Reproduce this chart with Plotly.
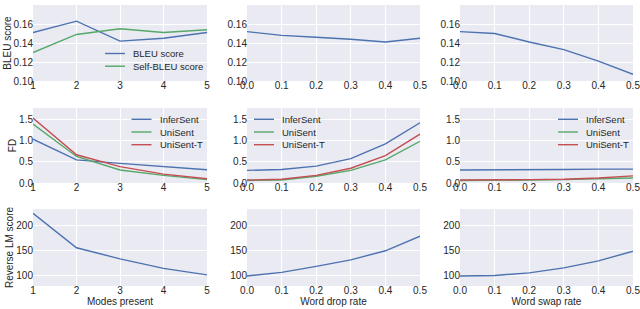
import plotly.graph_objs as go
from plotly.subplots import make_subplots

modes = [1, 2, 3, 4, 5]
rates = [0.0, 0.1, 0.2, 0.3, 0.4, 0.5]

# row 1: BLEU
bleu_modes = [0.151, 0.163, 0.142, 0.145, 0.151]
selfbleu_modes = [0.130, 0.149, 0.155, 0.151, 0.154]
bleu_drop = [0.152, 0.148, 0.146, 0.144, 0.141, 0.145]
bleu_swap = [0.152, 0.150, 0.141, 0.133, 0.121, 0.107]

# row 2: FD
fd_modes = {
    'InferSent': [1.04, 0.55, 0.465, 0.395, 0.316],
    'UniSent': [1.40, 0.63, 0.31, 0.18, 0.08],
    'UniSent-T': [1.54, 0.67, 0.39, 0.21, 0.10],
}
fd_drop = {
    'InferSent': [0.30, 0.32, 0.40, 0.58, 0.93, 1.43],
    'UniSent': [0.06, 0.07, 0.16, 0.30, 0.55, 0.99],
    'UniSent-T': [0.07, 0.09, 0.18, 0.35, 0.65, 1.16],
}
fd_swap = {
    'InferSent': [0.31, 0.31, 0.32, 0.32, 0.33, 0.33],
    'UniSent': [0.06, 0.06, 0.07, 0.08, 0.10, 0.12],
    'UniSent-T': [0.07, 0.07, 0.08, 0.09, 0.12, 0.17],
}

# row 3: reverse LM
rlm_modes = [224.5, 156, 134, 115, 102]
rlm_drop = [100, 107, 119, 132, 150, 179]
rlm_swap = [100, 101, 106, 116, 130, 149]

blue, green, red = '#4C72B0', '#55A868', '#C44E52'
colors = {'InferSent': blue, 'UniSent': green, 'UniSent-T': red}
txt = '#262626'
W, H = 640, 309

fig = make_subplots(rows=3, cols=3)

def line(x, y, name, color, row, col):
    fig.add_trace(go.Scatter(x=x, y=y, name=name, mode='lines',
                             line=dict(color=color, width=1.4),
                             showlegend=False),
                  row=row, col=col)

line(modes, bleu_modes, 'BLEU score', blue, 1, 1)
line(modes, selfbleu_modes, 'Self-BLEU score', green, 1, 1)
line(rates, bleu_drop, 'BLEU score', blue, 1, 2)
line(rates, bleu_swap, 'BLEU score', blue, 1, 3)

for col, (xs, d) in enumerate([(modes, fd_modes), (rates, fd_drop),
                               (rates, fd_swap)], start=1):
    for k, v in d.items():
        line(xs, v, k, colors[k], 2, col)

line(modes, rlm_modes, 'Reverse LM', blue, 3, 1)
line(rates, rlm_drop, 'Reverse LM', blue, 3, 2)
line(rates, rlm_swap, 'Reverse LM', blue, 3, 3)

xdom = [(33, 207), (247, 420), (460, 633)]
ydom = [(5, 81), (108, 183), (209, 286)]
yranges = [[0.10, 0.18], [0, 1.78], [80, 233]]
ytick = [dict(tickvals=[0.10, 0.12, 0.14, 0.16, 0.18], tickformat='.2f'),
         dict(tickvals=[0, 0.5, 1.0, 1.5], tickformat='.1f'),
         dict(tickvals=[100, 150, 200])]
ytitles = ['BLEU score', 'FD', 'Reverse LM score']
xtitles = ['Modes present', 'Word drop rate', 'Word swap rate']

for r in range(3):
    for c in range(3):
        x0, x1 = xdom[c]
        y0, y1 = ydom[r]
        if c == 0:
            xt = dict(range=[1, 5], tickvals=modes)
        else:
            xt = dict(range=[0, 0.5], tickvals=rates, tickformat='.1f')
        fig.update_xaxes(domain=[x0 / W, x1 / W], showgrid=True, gridcolor='white',
                         gridwidth=1, zeroline=False, showline=False, ticks='',
                         automargin=False, ticklabeloverflow='allow',
                         ticklabelstandoff=-3,
                         tickfont=dict(size=10, color=txt),
                         title=dict(text=xtitles[c] if r == 2 else None,
                                    font=dict(size=10, color=txt), standoff=2),
                         row=r + 1, col=c + 1, **xt)
        fig.update_yaxes(domain=[1 - y1 / H, 1 - y0 / H], range=yranges[r],
                         showgrid=True, gridcolor='white', gridwidth=1,
                         zeroline=False, showline=False, ticks='',
                         automargin=False, ticklabelstandoff=-1,
                         tickfont=dict(size=10, color=txt),
                         title=dict(text=ytitles[r] if c == 0 else None,
                                    font=dict(size=10, color=txt), standoff=0),
                         row=r + 1, col=c + 1, **ytick[r])

# legends drawn by hand (matplotlib-like compact spacing)
def legend(px, py, names, cols):
    for i, (n, col) in enumerate(zip(names, cols)):
        yy = 1 - (py + i * 12.7) / H
        fig.add_shape(type='line', xref='paper', yref='paper',
                      x0=px / W, x1=(px + 20) / W, y0=yy, y1=yy,
                      line=dict(color=col, width=1.4))
        fig.add_annotation(xref='paper', yref='paper', x=(px + 26) / W, y=yy,
                           text=n, showarrow=False, xanchor='left', yanchor='middle',
                           font=dict(size=9.5, color=txt))

legend(105, 53.5, ['BLEU score', 'Self-BLEU score'], [blue, green])
fd_names = list(fd_modes.keys())
fd_cols = [colors[k] for k in fd_names]
legend(131.5, 119.3, fd_names, fd_cols)
legend(254, 119.3, fd_names, fd_cols)
legend(558, 119.3, fd_names, fd_cols)

fig.update_layout(
    width=W, height=H,
    margin=dict(l=0, r=0, t=0, b=0),
    paper_bgcolor='white',
    plot_bgcolor='#EAEAF2',
    font=dict(family='Liberation Sans, Arial, sans-serif', color=txt),
    showlegend=False,
)

fig.write_html("out.html", config={'displayModeBar': False},
               post_script="document.body.style.margin='0px';")
